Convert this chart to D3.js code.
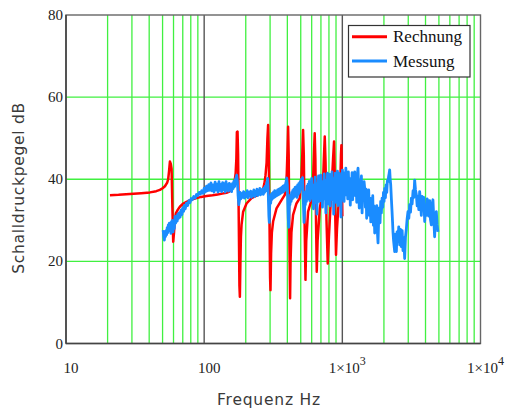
<!DOCTYPE html>
<html>
<head>
<meta charset="utf-8">
<script src="https://cdn.jsdelivr.net/npm/d3@7"></script>
<style>
  html, body { margin: 0; padding: 0; background: #fff; }
  svg { display: block; }
</style>
</head>
<body>
<svg id="chart" width="505" height="410"></svg>
<script>
// Frequency response: calculated (Rechnung) vs. measured (Messung) sound pressure level

const seriesNames = ["Rechnung", "Messung"];
const seriesColors = ["#ff0000", "#1a8cff"];

// Calculated level, [frequency Hz, level dB]
const rechnung = [
  [20.8,36.1],[24,36.2],[29,36.4],[35,36.6],[40.5,36.8],[45,37.1],[47.8,37.4],[50,37.8],[52,38.3],
  [54,39.2],[54.9,40],[55.7,42],[56.5,44.3],[57.3,43.8],[58.1,42.5],[58.9,33],[59.7,24.8],[60.5,27],
  [61.3,30],[62.4,31.7],[64.5,32.6],[66.7,33.3],[70,34],[74.6,34.5],[80,35],[88,35.4],[95,35.7],
  [104,35.9],[115,36.1],[125,36.3],[135,36.5],[145,36.7],[152,37],[158,37.5],[162,38.3],[166,39.5],
  [169,41.5],[171,45],[172.5,51.5],[174.4,51.6],[176,46],[178,30],[180,14],[181.3,11.4],[183,20],
  [184.5,26],[186.4,28.9],[191.5,32.1],[202.6,34.1],[220,35.4],[245.7,36.2],[260,36.8],[267,37.6],
  [273,39],[278,41],[283,44],[287,50],[290.3,53.2],[293,47],[297,30],[300,16],[302,13],[305,22],
  [309,27],[315.5,29.7],[333.9,32.9],[362.8,34.9],[383.4,36.2],[392,38.5],[396.3,41.5],[401,47],
  [405,52.8],[409,46],[413,28],[418.7,11],[422,20],[428,27],[440,31.3],[465.6,34.1],[492,35.4],
  [506,41],[513,46],[520,52],[526,46],[533,30],[541,15.5],[548,25],[565,32.1],[598,34.9],[612,38],
  [618,42.7],[624,47],[631,51.2],[638,45],[645,30],[653,17.5],[662,25],[687,32.9],[715,36.5],
  [725,39.4],[735,45],[746,50.4],[756,44],[768,30],[784,19.5],[800,26],[824,34.5],[843,40.2],
  [857,45],[871,49.2],[880,42],[890,30],[900,21.6],[915,28],[935,33],[955,36.5],[970,41],[978,46],
  [985,48.3],[992,42],[1000,31]
];

// Measured level, [frequency Hz, level dB]
const messung = [
  [50.5,27.6],[51,26],[51.5,25.2],[52,26.8],[52.5,26],[53,27.5],[53.5,26.5],[54,28.2],[54.5,27],
  [55,28.9],[55.5,27.6],[56,29.3],[56.5,27.5],[57,28.5],[57.5,26.8],[58,29.7],[58.5,28.2],[59,30],
  [59.5,27.2],[60,29.5],[60.8,28],[61.5,30.9],[62.2,29.3],[63,31],[63.8,29.8],[64.5,31.5],[65.3,30.5],
  [66,31.8],[67,30.8],[68,32.5],[69,31.4],[70,33],[71,32.2],[72,33.6],[73,32.8],[74.5,34.2],[76,33.6],
  [77.5,34.8],[79,34.3],[80.5,35.3],[82,35],[84,35.8],[86,35.4],[88,36.3],[90,36],[92,36.8],[94,36.4],
  [96,37.2],[98,36.6],[100,37.8],[102,36.9],[104,38.3],[106,37.2],[108,38.7],[110,37.3],[112,39.1],
  [114,37.2],[116,38.6],[118,36.9],[120,39.3],[122,37.4],[124,38.8],[126,36.9],[128,39.4],[130,37.3],
  [132,38.7],[134,37],[136,39.2],[138,37.5],[140,38.9],[142,36.9],[144,39.4],[146,37.4],[148,38.7],
  [150,37.1],[152,39],[154,37.4],[156,38.6],[158,37],[160,38.9],[162,37.7],[164,39.5],[166,38.2],
  [168,39.8],[170,40.3],[172,41],[174,39.5],[176,36],[178,33.8],[180,34.8],[182,36.8],[184,35.2],
  [187,36.5],[190,35.6],[193,37],[196,35.4],[199,36.6],[202,35.8],[205,37.2],[208,35.5],[211,36.8],
  [214,35.9],[217,37.1],[220,35.6],[223,36.9],[226,36],[229,37.4],[232,35.8],[235,37],[238,36.2],
  [241,37.6],[244,36],[247,37.3],[250,36.4],[253,37.8],[256,36.2],[259,37.1],[262,36.5],[265,37.6],
  [268,36.3],[271,37.9],[274,36.8],[277,38.3],[280,37.2],[283,38.8],[286,39.6],[288,40.2],[290,38.5],
  [292,34.5],[294,31],[296,29.5],[298,33.5],[300,35.2],[303,34.2],[306,36.3],[309,35.1],[312,36.6],
  [315,35.4],[318,36.9],[321,35.6],[324,37.2],[328,35.8],[332,37],[336,36],[340,37.4],[344,36.2],
  [348,37.6],[352,36.4],[356,37.8],[360,36.6],[364,38],[368,36.8],[372,38.3],[376,37],[380,38.5],
  [384,37.3],[388,38.8],[392,39.5],[396,40.3],[400,38.6],[403,34],[406,30.5],[409,28.3],[412,32.5],
  [415,35],[418,33.8],[422,36.2],[426,34.6],[430,36.8],[434,35.2],[438,37.3],[442,35.5],[446,37.6],
  [450,35.8],[455,38],[460,36],[465,38.2],[470,35.6],[475,38.6],[480,36.3],[485,39],[490,36.8],
  [495,39.4],[500,37.6],[505,40],[510,38.2],[515,40.4],[520,37],[524,33],[528,29.5],[532,31.5],
  [536,35.5],[540,33.8],[545,37],[550,34.6],[555,38.3],[560,35.2],[565,38.8],[570,35.6],[576,39.5],
  [582,34.8],[588,39.2],[594,36],[600,40.2],[606,35.3],[612,38.6],[618,32.8],[624,38],[630,35.4],
  [636,40.5],[642,34.2],[648,39],[654,31.5],[660,37.8],[666,35],[672,40.8],[678,34.6],[684,39.3],
  [690,36.2],[697,41],[704,34.8],[711,38.6],[718,33.2],[725,39.5],[732,36],[739,41.3],[746,35.2],
  [753,39.8],[760,31.8],[767,38.4],[774,35.6],[781,41.5],[788,34],[795,39.6],[802,36.4],[810,41.2],
  [818,33.5],[826,39.8],[834,36.2],[842,41.8],[850,35],[858,40.2],[866,31.5],[874,38.8],[882,36],
  [890,41.5],[898,34.4],[906,40],[914,36.8],[922,42],[930,33.6],[938,39.6],[946,36.2],[954,41.4],
  [962,34.8],[970,40.6],[978,30.8],[986,39.2],[994,35.4],[1002,42.2],[1010,35.8],[1020,40.8],
  [1030,34.6],[1040,41.6],[1050,36.2],[1060,42.7],[1071,38],[1082,40.5],[1094,35.2],[1106,41.8],
  [1118,36.6],[1130,40.2],[1142,33.7],[1154,39.8],[1164,36.4],[1176,41.6],[1188,35],[1200,40.4],
  [1214,37.2],[1229,41.8],[1243,36],[1257,40.6],[1271,34.4],[1285,41.2],[1299,42.7],[1312,38.2],
  [1326,33],[1340,39.5],[1356,36.2],[1374,40.8],[1390,31.8],[1406,38.6],[1422,35.2],[1437,39.4],
  [1452,37.8],[1468,33.2],[1484,37.6],[1500,30.5],[1518,36.8],[1535,33],[1552,37.4],[1570,31.2],
  [1588,35.4],[1606,29.6],[1624,34.6],[1642,31.5],[1660,36],[1678,28.8],[1696,33.5],[1715,26.9],
  [1735,32.4],[1755,29.5],[1775,33.6],[1795,27],[1813,24.5],[1832,30.2],[1855,33],[1875,29.4],
  [1895,34.6],[1917,31.8],[1940,35.4],[1962,33.2],[1985,36.8],[2005,34.6],[2026,37.8],[2050,35.5],
  [2073,38.6],[2096,36.8],[2118,39.6],[2140,39.4],[2165,40.8],[2185,41.5],[2201,42.3],[2220,40],
  [2240,38.6],[2265,35.2],[2290,32.1],[2310,29.5],[2326,27.2],[2350,25],[2393,22.4],[2420,26.6],
  [2445,23.5],[2461,22.4],[2490,27.2],[2528,24.8],[2560,28.4],[2600,24],[2635,27.8],[2673,23.6],
  [2710,27.5],[2748,22.6],[2785,25.8],[2825,20.7],[2865,26],[2907,28],[2945,30.4],[2986,32.1],
  [3030,30.5],[3071,33.8],[3115,32],[3160,35.4],[3200,34],[3250,37.2],[3290,35.6],[3338,39.8],
  [3385,37.4],[3434,36.2],[3480,33.5],[3527,35.8],[3575,32.6],[3627,37],[3680,34.4],[3730,31.2],
  [3780,35.8],[3832,33.2],[3890,35.6],[3943,29.7],[4000,33.4],[4055,31.2],[4110,35.2],[4166,34.5],
  [4225,31],[4285,34.8],[4345,30.2],[4406,28.9],[4465,33.8],[4527,35],[4590,30.4],[4656,26],
  [4720,31.2],[4790,32.1],[4850,29],[4920,27.2]
];

const xDomain = [10, 10000];
const yDomain = [0, 80];
const xTickValues = [10, 100, 1000, 10000];
const xTickBase = ["10", "100", "1×10", "1×10"];
const xTickExp = ["", "", "3", "4"];
const yTickValues = [0, 20, 40, 60, 80];
const xTitle = "Frequenz Hz";
const yTitle = "Schalldruckpegel dB";

const svg = d3.select("#chart");
const plotL = 66, plotR = 480.5, plotT = 15, plotB = 343.5;

const x = d3.scaleLog().domain(xDomain).range([plotL, plotR]);
const y = d3.scaleLinear().domain(yDomain).range([plotB, plotT]);

const grid = svg.append("g");
// minor decade lines (2..9 in each decade)
const minorX = [];
[10, 100, 1000].forEach(d => { for (let k = 2; k <= 9; k++) minorX.push(d * k); });
grid.selectAll("line.vminor").data(minorX).enter().append("line")
  .attr("x1", d => x(d)).attr("x2", d => x(d))
  .attr("y1", plotT).attr("y2", plotB)
  .attr("stroke", "#40f040").attr("stroke-width", 1.3);
grid.selectAll("line.h").data(yTickValues.filter(v => v > 0 && v < 80)).enter().append("line")
  .attr("x1", plotL).attr("x2", plotR)
  .attr("y1", d => y(d)).attr("y2", d => y(d))
  .attr("stroke", "#40f040").attr("stroke-width", 1.3);
// decade lines
grid.selectAll("line.vmajor").data([100, 1000]).enter().append("line")
  .attr("x1", d => x(d)).attr("x2", d => x(d))
  .attr("y1", plotT).attr("y2", plotB)
  .attr("stroke", "#555").attr("stroke-width", 1.4);

// frame
svg.append("rect")
  .attr("x", plotL).attr("y", plotT)
  .attr("width", plotR - plotL).attr("height", plotB - plotT)
  .attr("fill", "none").attr("stroke", "#666").attr("stroke-width", 1.4);
svg.append("line").attr("x1", plotL).attr("x2", plotR).attr("y1", plotB).attr("y2", plotB)
  .attr("stroke", "#444").attr("stroke-width", 1.6);
svg.append("line").attr("x1", plotL).attr("x2", plotL).attr("y1", plotT).attr("y2", plotB)
  .attr("stroke", "#444").attr("stroke-width", 1.6);

// curves
const line = d3.line().x(d => x(d[0])).y(d => y(d[1]));
svg.append("defs").append("clipPath").attr("id", "plotclip")
  .append("rect").attr("x", plotL).attr("y", plotT).attr("width", plotR - plotL).attr("height", plotB - plotT);
const curves = svg.append("g").attr("clip-path", "url(#plotclip)");
curves.append("path").datum(rechnung).attr("d", line)
  .attr("fill", "none").attr("stroke", seriesColors[0]).attr("stroke-width", 2.5)
  .attr("stroke-linejoin", "round");
curves.append("path").datum(messung).attr("d", line)
  .attr("fill", "none").attr("stroke", seriesColors[1]).attr("stroke-width", 2.8)
  .attr("stroke-linejoin", "round");

// y tick labels
svg.append("g").selectAll("text").data(yTickValues).enter().append("text")
  .attr("x", plotL - 3).attr("y", d => y(d) + 5)
  .attr("text-anchor", "end")
  .attr("font-family", "Liberation Serif, serif").attr("font-size", 15)
  .attr("fill", "#222")
  .text(d => d);

// x tick labels
const xl = svg.append("g").selectAll("text").data(xTickValues).enter().append("text")
  .attr("x", d => x(d) + 5).attr("y", 373)
  .attr("text-anchor", "middle")
  .attr("font-family", "Liberation Serif, serif").attr("font-size", 15)
  .attr("fill", "#222");
xl.append("tspan").text((d, i) => xTickBase[i]);
xl.append("tspan").attr("dy", -8).attr("font-size", 12).text((d, i) => xTickExp[i]);

// axis titles
svg.append("text")
  .attr("x", 269).attr("y", 405)
  .attr("text-anchor", "middle")
  .attr("font-family", "DejaVu Sans, sans-serif").attr("font-size", 15.5)
  .attr("letter-spacing", 0.8)
  .attr("fill", "#3a3a3a")
  .text(xTitle);
svg.append("text")
  .attr("transform", "translate(24,188) rotate(-90)")
  .attr("text-anchor", "middle")
  .attr("font-family", "DejaVu Sans, sans-serif").attr("font-size", 15.5)
  .attr("letter-spacing", 0.7)
  .attr("fill", "#3a3a3a")
  .text(yTitle);

// legend
const lg = svg.append("g");
lg.append("rect").attr("x", 348.5).attr("y", 25.5).attr("width", 121.5).attr("height", 51.5)
  .attr("fill", "#fff").attr("stroke", "#333").attr("stroke-width", 1.2);
seriesNames.forEach((name, i) => {
  const yy = 36.7 + i * 24.3;
  lg.append("line").attr("x1", 352).attr("x2", 387).attr("y1", yy).attr("y2", yy)
    .attr("stroke", seriesColors[i]).attr("stroke-width", 3);
  lg.append("text").attr("x", 393).attr("y", yy + 5.5)
    .attr("font-family", "Liberation Serif, serif").attr("font-size", 17)
    .attr("fill", "#111").text(name);
});
</script>
</body>
</html>
